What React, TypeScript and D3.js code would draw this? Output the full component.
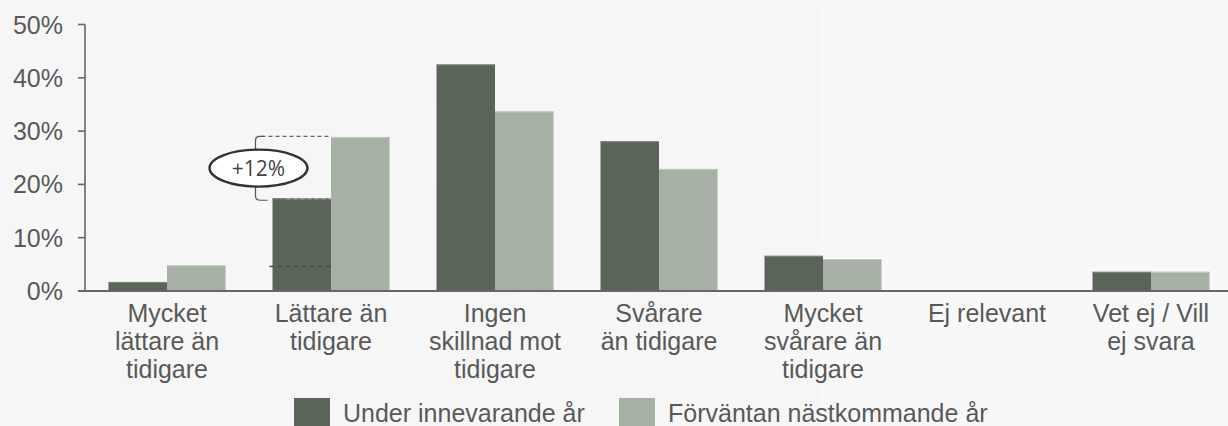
import React from "react";
import * as d3 from "d3";

const categories = [
  "Mycket lättare än tidigare",
  "Lättare än tidigare",
  "Ingen skillnad mot tidigare",
  "Svårare än tidigare",
  "Mycket svårare än tidigare",
  "Ej relevant",
  "Vet ej / Vill ej svara",
];
const categoryLines = [
  ["Mycket", "lättare än", "tidigare"],
  ["Lättare än", "tidigare"],
  ["Ingen", "skillnad mot", "tidigare"],
  ["Svårare", "än tidigare"],
  ["Mycket", "svårare än", "tidigare"],
  ["Ej relevant"],
  ["Vet ej / Vill", "ej svara"],
];
const seriesNames = ["Under innevarande år", "Förväntan nästkommande år"];
const currentYear = [1.7, 17.4, 42.5, 28.1, 6.6, 0, 3.6];
const nextYear = [4.8, 28.9, 33.7, 22.9, 6.0, 0, 3.6];
const yTicks = [0, 10, 20, 30, 40, 50];
const annotationLabel = "+12%";
const annotationCategory = 1;
const annotationExtraLevel = 4.6;

const W = 1228;
const H = 426;
const colors = ["#5a6459", "#a7b0a5"];
const edgeColors = ["#7f897e", "#c3cac1"];
const textColor = "#595959";
const font = "'Liberation Sans', Arial, sans-serif";

export default function App() {
  const y = d3.scaleLinear().domain([0, 50]).range([291, 24.5]);
  const x0 = d3
    .scaleBand<string>()
    .domain(categories)
    .range([85, 1233])
    .paddingInner(0.2866)
    .paddingOuter(0.1433);
  const x1 = d3
    .scaleBand<string>()
    .domain(seriesNames)
    .range([0, x0.bandwidth()]);
  const series = [currentYear, nextYear];

  const aCat = categories[annotationCategory];
  const aX = x0(aCat)!;
  const topY = y(nextYear[annotationCategory]);
  const botY = y(currentYear[annotationCategory]);
  const midX = aX + x1(seriesNames[1])!;
  const brX = aX - 17;
  const ellCx = brX + 3;
  const ellCy = (topY + botY) / 2 + 0.5;

  const rays = [
    [560, 0, 620, 0],
    [300, 0, 380, 0],
    [760, 0, 820, 0],
    [1000, 0, 1080, 200],
    [100, 300, 0, 200],
  ];

  return (
    <svg
      width={W}
      height={H}
      style={{ position: "absolute", left: 0, top: 0, background: "#f6f6f6" }}
      fontFamily={font}
    >
      <rect x={0} y={0} width={W} height={H} fill="#f6f6f6" />
      <g opacity={0.3}>
        {rays.map((r, i) => (
          <polygon
            key={i}
            points={`640,470 ${r[0]},${r[1]} ${r[2]},${r[3]}`}
            fill="#ffffff"
            opacity={0.5}
          />
        ))}
      </g>
      <rect x={820} y={0} width={408} height={426} fill="#fafafb" opacity={0.5} />

      {/* bars */}
      {categories.map((c, i) => (
        <g key={c} transform={`translate(${x0(c)},0)`}>
          {series.map((s, j) =>
            s[i] > 0 ? (
              <g key={j}>
                <rect
                  x={x1(seriesNames[j])}
                  y={y(s[i])}
                  width={x1.bandwidth()}
                  height={y(0) - y(s[i])}
                  fill={colors[j]}
                />
                <line
                  x1={x1(seriesNames[j])!}
                  x2={x1(seriesNames[j])! + x1.bandwidth()}
                  y1={y(s[i]) + 0.5}
                  y2={y(s[i]) + 0.5}
                  stroke={edgeColors[j]}
                  strokeWidth={1}
                />
              </g>
            ) : null
          )}
        </g>
      ))}

      {/* annotation */}
      <line
        x1={brX + 6}
        x2={midX}
        y1={topY - 0.5}
        y2={topY - 0.5}
        stroke="#666"
        strokeWidth={1.3}
        strokeDasharray="4,3"
      />
      <line
        x1={aX + 14}
        x2={midX}
        y1={botY + 0.5}
        y2={botY + 0.5}
        stroke="#9aa298"
        strokeWidth={1.3}
        strokeDasharray="4,3"
      />
      <line
        x1={aX - 3}
        x2={midX}
        y1={y(annotationExtraLevel)}
        y2={y(annotationExtraLevel)}
        stroke="#454d45"
        strokeWidth={1.3}
        strokeDasharray="5,3"
      />
      <path
        d={`M${brX + 8},${topY - 0.5} L${brX + 4},${topY - 0.5} Q${brX},${topY - 0.5} ${brX},${topY + 4} L${brX},${botY - 2} Q${brX},${botY + 2} ${brX + 5},${botY + 2} L${brX + 12},${botY + 2}`}
        fill="none"
        stroke="#555"
        strokeWidth={1.2}
      />
      <ellipse
        cx={ellCx}
        cy={ellCy}
        rx={49}
        ry={18.5}
        fill="#ffffff"
        stroke="#333"
        strokeWidth={2.4}
      />
      <text
        x={ellCx}
        y={ellCy}
        textAnchor="middle"
        dominantBaseline="central"
        fontFamily="'Open Sans', sans-serif"
        fontSize={21}
        fill="#444"
      >
        {annotationLabel}
      </text>

      {/* axes */}
      <line x1={85} x2={85} y1={y(50)} y2={y(0)} stroke="#666" strokeWidth={1.6} />
      <line x1={78} x2={W} y1={y(0)} y2={y(0)} stroke="#666" strokeWidth={2} />
      {yTicks.map((t) => (
        <g key={t}>
          <line x1={78} x2={85} y1={y(t)} y2={y(t)} stroke="#666" strokeWidth={1.6} />
          <text
            x={63}
            y={y(t)}
            textAnchor="end"
            dominantBaseline="central"
            fontSize={25}
            fill={textColor}
          >
            {t}%
          </text>
        </g>
      ))}

      {/* category labels */}
      {categories.map((c, i) => (
        <text
          key={c}
          x={x0(c)! + x0.bandwidth() / 2}
          textAnchor="middle"
          fontSize={25}
          fill={textColor}
        >
          {categoryLines[i].map((l, k) => (
            <tspan key={k} x={x0(c)! + x0.bandwidth() / 2} y={322 + k * 28}>
              {l}
            </tspan>
          ))}
        </text>
      ))}

      {/* legend */}
      {[
        { x: 294, tx: 343 },
        { x: 619, tx: 668 },
      ].map((p, j) => (
        <g key={j}>
          <rect x={p.x} y={398} width={36} height={30} fill={colors[j]} />
          <text x={p.tx} y={422} fontSize={25} fill={textColor}>
            {seriesNames[j]}
          </text>
        </g>
      ))}
    </svg>
  );
}
